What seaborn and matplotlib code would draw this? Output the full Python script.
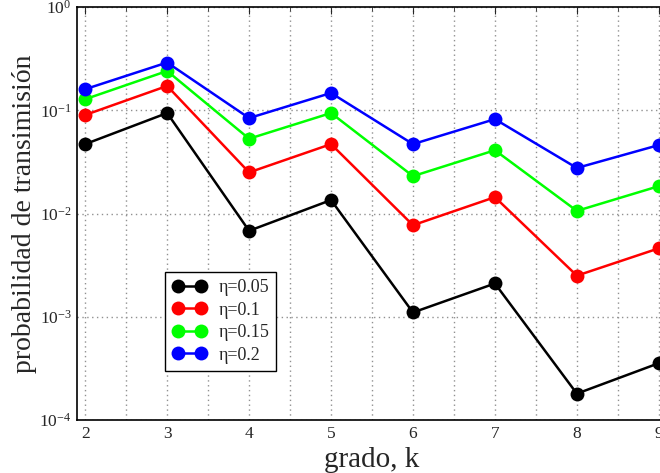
import numpy as np
import pandas as pd
import matplotlib
matplotlib.use("Agg")
import matplotlib.pyplot as plt
import seaborn as sns
from matplotlib.ticker import MultipleLocator, LogLocator, NullFormatter

k = [2, 3, 4, 5, 6, 7, 8, 9]
eta_labels = ["η=0.05", "η=0.1", "η=0.15", "η=0.2"]
p_005 = [0.047, 0.094, 0.0068, 0.0135, 0.0011, 0.0021, 0.00018, 0.000355]
p_010 = [0.090, 0.172, 0.025, 0.047, 0.0077, 0.0144, 0.0025, 0.0046]
p_015 = [0.128, 0.24, 0.053, 0.094, 0.023, 0.041, 0.0106, 0.0184]
p_020 = [0.16, 0.29, 0.084, 0.147, 0.047, 0.082, 0.0276, 0.046]
colors = ["#000000", "#ff0000", "#00ff00", "#0000ff"]

rows = []
for lab, vals in zip(eta_labels, [p_005, p_010, p_015, p_020]):
    for kk, v in zip(k, vals):
        rows.append({"k": kk, "p": v, "eta": lab})
df = pd.DataFrame(rows)

sns.set_style("white")
plt.rcParams["font.family"] = ["Liberation Serif", "DejaVu Serif"]
plt.rcParams["mathtext.fontset"] = "stix"

fig = plt.figure(figsize=(6.6, 4.73), dpi=100)
ax = fig.add_axes([77/660, 1-420/473, 590/660, 413/473])

sns.lineplot(data=df, x="k", y="p", hue="eta", palette=colors, marker="o",
             markersize=10, markeredgewidth=0, linewidth=1.8, ax=ax, legend=True)

ax.set_yscale("log")
ax.set_ylim(1e-4, 1)
ax.set_xlim(1.9, 9.1)
ax.xaxis.set_major_locator(MultipleLocator(1))
ax.xaxis.set_minor_locator(MultipleLocator(0.5))
ax.yaxis.set_major_locator(LogLocator(base=10, numticks=10))
ax.yaxis.set_minor_locator(LogLocator(base=10, subs=np.arange(2, 10), numticks=10))
ax.yaxis.set_minor_formatter(NullFormatter())
ax.grid(True, which="major", axis="both", linestyle=(0, (1, 2.5)), color="#909090", linewidth=1)
ax.grid(True, which="minor", axis="x", linestyle=(0, (1, 2.5)), color="#909090", linewidth=1)
ax.tick_params(which="both", direction="in", labelsize=12.5, top=True, right=True)
ax.tick_params(which="major", length=5, pad=4)
ax.tick_params(which="minor", length=3)
for s in ax.spines.values():
    s.set_linewidth(1.2)
    s.set_color("black")

ax.set_xlabel("grado, k", fontsize=21)
ax.xaxis.set_label_coords(0.5, -0.065)
ax.set_ylabel("probabilidad de transimisión", fontsize=20)
ax.yaxis.set_label_coords(-0.068, 0.5)

handles, labels = ax.get_legend_handles_labels()
leg = ax.legend(handles, labels, loc="upper left", bbox_to_anchor=(0.149, 0.358),
                borderaxespad=0, fontsize=13, numpoints=2, frameon=True,
                fancybox=False, edgecolor="black", framealpha=1, handlelength=1.9,
                borderpad=0.4, labelspacing=0.3, handletextpad=0.65)
leg.get_frame().set_linewidth(1)

fig.savefig("out.png", dpi=100)
